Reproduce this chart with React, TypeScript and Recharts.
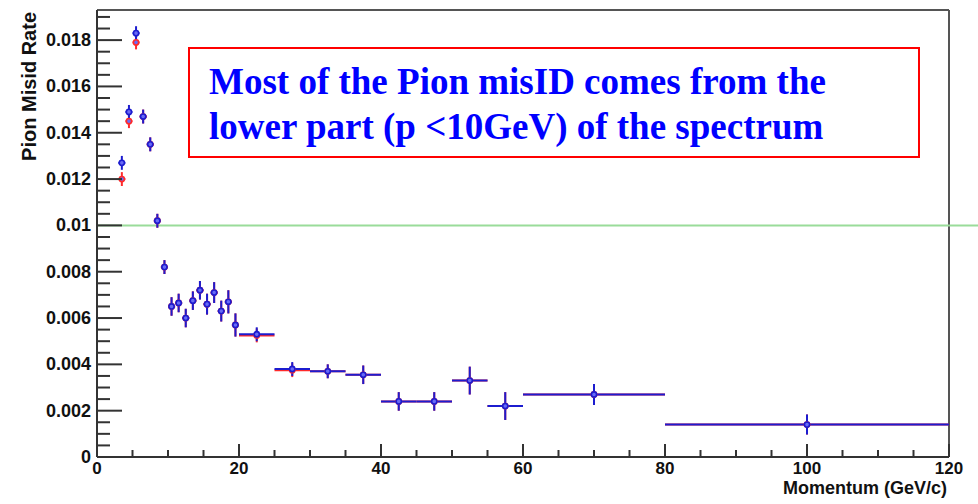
import {
  ComposedChart,
  Scatter,
  ErrorBar,
  XAxis,
  YAxis,
  ReferenceLine,
  Label,
} from "recharts";

// bin centres (GeV/c) and half widths of the momentum bins
const momentum = [
  3.5, 4.5, 5.5, 6.5, 7.5, 8.5, 9.5, 10.5, 11.5, 12.5, 13.5, 14.5, 15.5, 16.5,
  17.5, 18.5, 19.5, 22.5, 27.5, 32.5, 37.5, 42.5, 47.5, 52.5, 57.5, 70, 100,
];
const binHalfWidth = [
  0.5, 0.5, 0.5, 0.5, 0.5, 0.5, 0.5, 0.5, 0.5, 0.5, 0.5, 0.5, 0.5, 0.5, 0.5,
  0.5, 0.5, 2.5, 2.5, 2.5, 2.5, 2.5, 2.5, 2.5, 2.5, 10, 20,
];
const blueRate = [
  0.0127, 0.0149, 0.0183, 0.0147, 0.0135, 0.0102, 0.0082, 0.0065, 0.00665,
  0.006, 0.00675, 0.0072, 0.0066, 0.0071, 0.0063, 0.0067, 0.0057, 0.0053,
  0.0038, 0.0037, 0.00355, 0.0024, 0.0024, 0.0033, 0.0022, 0.0027, 0.0014,
];
const blueErr = [
  0.0003, 0.0003, 0.0003, 0.0003, 0.0003, 0.0003, 0.0003, 0.0004, 0.0004,
  0.0004, 0.0004, 0.0004, 0.00045, 0.00045, 0.00045, 0.0005, 0.0005, 0.0003,
  0.0003, 0.0003, 0.0004, 0.0004, 0.0004, 0.0006, 0.0006, 0.00045, 0.00043,
];
const redRate = [
  0.012, 0.0145, 0.0179, 0.0147, 0.0135, 0.0102, 0.0082, 0.0065, 0.00665,
  0.006, 0.00675, 0.0072, 0.0066, 0.0071, 0.0063, 0.0067, 0.0057, 0.00525,
  0.00375, 0.0037, 0.00355, 0.0024, 0.0024, 0.0033, 0.0022, 0.0027, 0.0014,
];

const xTicks = [
  0, 5, 10, 15, 20, 25, 30, 35, 40, 45, 50, 55, 60, 65, 70, 75, 80, 85, 90, 95,
  100, 105, 110, 115, 120,
];
const yTicks = [
  0, 0.0005, 0.001, 0.0015, 0.002, 0.0025, 0.003, 0.0035, 0.004, 0.0045, 0.005,
  0.0055, 0.006, 0.0065, 0.007, 0.0075, 0.008, 0.0085, 0.009, 0.0095, 0.01,
  0.0105, 0.011, 0.0115, 0.012, 0.0125, 0.013, 0.0135, 0.014, 0.0145, 0.015,
  0.0155, 0.016, 0.0165, 0.017, 0.0175, 0.018, 0.0185, 0.019,
];

const blueData = momentum.map((x, i) => ({
  x,
  y: blueRate[i],
  ex: binHalfWidth[i],
  ey: blueErr[i],
}));
const redData = momentum.map((x, i) => ({
  x,
  y: redRate[i],
  ex: binHalfWidth[i],
  ey: blueErr[i],
}));

const BLUE = "#1c1ccf";
const RED = "#ff2a2a";
const AXIS = "#333";
const FONT = "'Liberation Sans', Arial, sans-serif";

const PLOT_LEFT = 97;
const PLOT_BOTTOM = 457;

function YTick(props: any) {
  const { y, payload } = props;
  const v = payload.value as number;
  const major = Math.abs(Math.round(v / 0.002) * 0.002 - v) < 1e-7;
  return (
    <g>
      <line
        x1={PLOT_LEFT}
        x2={PLOT_LEFT + (major ? 25 : 13)}
        y1={y}
        y2={y}
        stroke={AXIS}
        strokeWidth={2}
      />
      {major && (
        <text
          x={PLOT_LEFT - 6}
          y={y}
          dy={6}
          textAnchor="end"
          fontFamily={FONT}
          fontWeight="bold"
          fontSize={18}
          fill="#111"
        >
          {String(Number(v.toFixed(4)))}
        </text>
      )}
    </g>
  );
}

function XTick(props: any) {
  const { x, payload } = props;
  const v = payload.value as number;
  const major = v % 20 === 0;
  return (
    <g>
      <line
        x1={x}
        x2={x}
        y1={PLOT_BOTTOM}
        y2={PLOT_BOTTOM - (major ? 13 : 7)}
        stroke={AXIS}
        strokeWidth={2}
      />
      {major && (
        <text
          x={x}
          y={PLOT_BOTTOM + 17}
          textAnchor="middle"
          fontFamily={FONT}
          fontWeight="bold"
          fontSize={17}
          fill="#111"
        >
          {v}
        </text>
      )}
    </g>
  );
}

const marker = (color: string) => (props: any) => (
  <circle
    cx={props.cx}
    cy={props.cy}
    r={2.6}
    fill="#6a6af5"
    stroke={color}
    strokeWidth={1.6}
  />
);

export default function App() {
  return (
    <div
      style={{
        position: "absolute",
        left: 0,
        top: 0,
        width: 978,
        height: 504,
        background: "#fff",
      }}
    >
      <ComposedChart
        width={978}
        height={504}
        margin={{ top: 10, right: 29, bottom: 0, left: 0 }}
      >
        <XAxis
          type="number"
          dataKey="x"
          domain={[0, 120]}
          ticks={xTicks}
          interval={0}
          height={47}
          allowDataOverflow
          axisLine={{ stroke: AXIS, strokeWidth: 2 }}
          tickLine={false}
          tick={<XTick />}
        >
          <Label
            content={() => (
              <text
                x={947}
                y={494}
                textAnchor="end"
                fontFamily={FONT}
                fontWeight="bold"
                fontSize={18}
                fill="#111"
              >
                Momentum (GeV/c)
              </text>
            )}
          />
        </XAxis>
        <YAxis
          type="number"
          dataKey="y"
          domain={[0, 0.0193]}
          ticks={yTicks}
          interval={0}
          width={97}
          allowDataOverflow
          axisLine={{ stroke: AXIS, strokeWidth: 2 }}
          tickLine={false}
          tick={<YTick />}
        >
          <Label
            content={() => (
              <text
                x={36}
                y={12}
                transform="rotate(-90 36 12)"
                textAnchor="end"
                fontFamily={FONT}
                fontWeight="bold"
                fontSize={20}
                fill="#111"
              >
                Pion Misid Rate
              </text>
            )}
          />
        </YAxis>
        <ReferenceLine y={0.0193} stroke="#555" strokeWidth={2} />
        <ReferenceLine x={120} stroke="#555" strokeWidth={2} />
        <ReferenceLine
          segment={[
            { x: 0, y: 0.01 },
            { x: 124.5, y: 0.01 },
          ]}
          ifOverflow="visible"
          stroke="#9adc9a"
          strokeWidth={2}
        />
        <Scatter
          data={redData}
          fill={RED}
          shape={marker(RED)}
          isAnimationActive={false}
        >
          <ErrorBar dataKey="ey" direction="y" width={0} stroke={RED} strokeWidth={2} isAnimationActive={false} />
          <ErrorBar dataKey="ex" direction="x" width={0} stroke={RED} strokeWidth={2} isAnimationActive={false} />
        </Scatter>
        <Scatter
          data={blueData}
          fill={BLUE}
          shape={marker(BLUE)}
          isAnimationActive={false}
        >
          <ErrorBar dataKey="ey" direction="y" width={0} stroke={BLUE} strokeWidth={2} isAnimationActive={false} />
          <ErrorBar dataKey="ex" direction="x" width={0} stroke={BLUE} strokeWidth={2} isAnimationActive={false} />
        </Scatter>
      </ComposedChart>
      <div
        style={{
          position: "absolute",
          left: 188,
          top: 47,
          width: 728,
          height: 107,
          border: "2px solid #ff0000",
          boxSizing: "content-box",
          background: "#fff",
          fontFamily: "'Liberation Serif', 'Times New Roman', serif",
          fontWeight: "bold",
          fontSize: 37,
          lineHeight: "45px",
          color: "#0000ff",
        }}
      >
        <div style={{ position: "absolute", left: 19, top: 10, whiteSpace: "nowrap" }}>
          Most of the Pion misID comes from the
          <br />
          lower part (p &lt;10GeV) of the spectrum
        </div>
      </div>
    </div>
  );
}
